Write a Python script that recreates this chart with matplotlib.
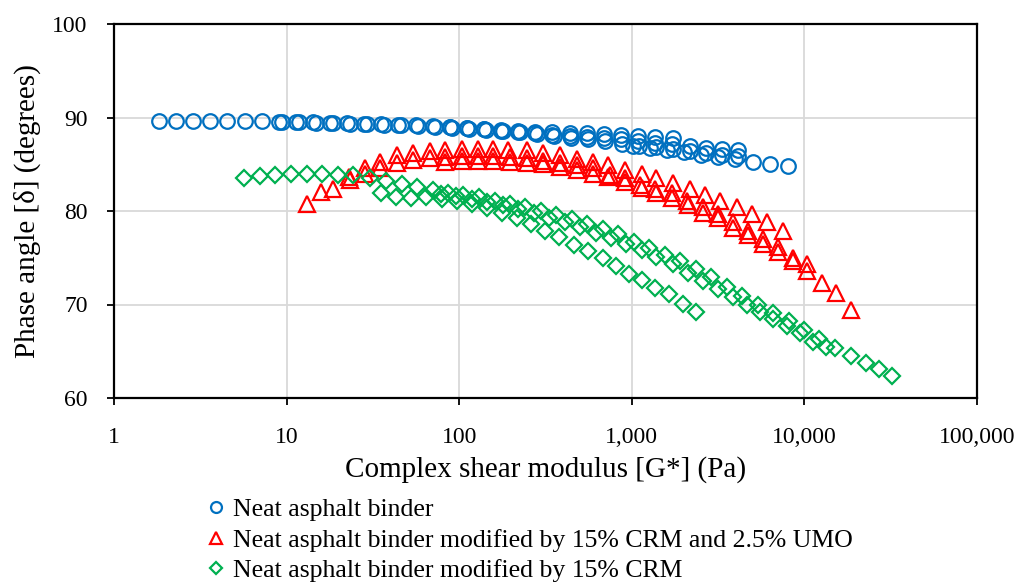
import matplotlib
matplotlib.use("Agg")
import matplotlib.pyplot as plt
from matplotlib.ticker import FuncFormatter, FixedLocator

# Neat asphalt binder (several overlapping sweeps)
neat_g1 = [1.82, 2.29, 2.87, 3.60, 4.51, 5.73, 7.19, 9.03, 11.3, 14.2, 17.8, 22.3, 28.0, 35.2, 44.1, 56.1,
           70.3, 88.2, 111, 139, 174, 218, 274, 344, 437, 548, 688, 862, 1080, 1360, 1730]
neat_d1 = [89.6, 89.6, 89.6, 89.6, 89.6, 89.6, 89.6, 89.5, 89.5, 89.5, 89.4, 89.4, 89.3, 89.3, 89.2, 89.2,
           89.1, 89.0, 88.9, 88.8, 88.7, 88.6, 88.5, 88.4, 88.3, 88.3, 88.2, 88.1, 88.0, 87.9, 87.8]
neat_g2 = [9.39, 11.8, 14.8, 18.5, 23.3, 29.2, 36.6, 45.9, 57.6, 72.2, 90.6, 114, 143, 179, 224, 281,
           353, 443, 555, 697, 874, 1100, 1380, 1730, 2160, 2680, 3320, 4100]
neat_d2 = [89.5, 89.5, 89.4, 89.4, 89.3, 89.3, 89.2, 89.2, 89.1, 89.0, 88.9, 88.8, 88.7, 88.6, 88.4, 88.2,
           88.0, 87.8, 87.7, 87.5, 87.2, 87.0, 86.8, 86.6, 86.4, 86.2, 86.0, 85.9]
neat_g3 = [88.2, 111, 139, 174, 218, 274, 344, 437, 548, 688, 862, 1080, 1360, 1700, 2160, 2680, 3320, 4100]
neat_d3 = [89.0, 88.9, 88.8, 88.6, 88.5, 88.3, 88.1, 88.0, 87.9, 87.8, 87.7, 87.5, 87.3, 87.2, 86.9, 86.7,
           86.6, 86.5]
neat_g4 = [1010, 1270, 1590, 2000, 2510, 3140, 3940, 5010, 6290, 7990]
neat_d4 = [86.9, 86.7, 86.5, 86.3, 86.0, 85.8, 85.6, 85.2, 85.0, 84.8]

# Modified by 15% CRM and 2.5% UMO
umo_g1 = [13.1, 15.8, 18.5, 22.9, 28.4, 34.7, 43.5, 53.9, 67.5, 82.5, 104, 128, 157, 191, 246, 305, 382,
          480, 594, 725, 910, 1140, 1390, 1730, 2160, 2640, 3230, 4050, 4950, 6040, 7480]
umo_d1 = [80.8, 82.0, 82.4, 83.6, 84.6, 85.2, 86.0, 86.2, 86.4, 86.5, 86.6, 86.6, 86.6, 86.5, 86.5, 86.2,
          86.0, 85.6, 85.2, 84.9, 84.4, 84.0, 83.5, 83.0, 82.4, 81.7, 81.1, 80.4, 79.7, 78.8, 77.9]
umo_g2 = [23.3, 28.4, 34.7, 43.5, 53.9, 67.5, 82.5, 104, 128, 157, 196, 246, 305, 382, 480, 594, 745,
          910, 1110, 1360, 1700, 2080, 2570, 3140, 3840, 4690, 5730, 7000, 8550, 10400]
umo_d2 = [83.3, 84.0, 84.6, 85.1, 85.5, 85.7, 85.8, 85.9, 85.9, 85.9, 85.8, 85.7, 85.4, 85.1, 84.9, 84.6,
          83.9, 83.5, 82.8, 82.4, 81.9, 81.1, 80.4, 79.7, 78.8, 77.9, 77.0, 76.1, 75.0, 74.3]
umo_g3 = [82.5, 104, 128, 157, 196, 246, 305, 382, 480, 594, 725, 910, 1140, 1390, 1700, 2110, 2570,
          3140, 3840, 4690, 5730, 7000, 8550, 10300, 12600, 15200, 18500]
umo_d3 = [85.2, 85.3, 85.3, 85.3, 85.2, 85.1, 85.0, 84.7, 84.4, 84.0, 83.6, 83.1, 82.5, 81.9, 81.4, 80.6,
          79.8, 79.2, 78.2, 77.4, 76.5, 75.6, 74.7, 73.6, 72.3, 71.2, 69.4]

# Modified by 15% CRM
crm_g1 = [5.66, 7.00, 8.56, 10.6, 13.1, 16.0, 19.8, 24.2, 30.4, 37.6, 46.5, 56.8, 70.3, 85.9, 105, 130,
          161, 196, 240, 297, 362, 449, 548, 678, 829, 1030, 1250, 1550, 1890, 2340, 2860, 3540, 4330,
          5360, 6540, 8100, 9890, 12200, 15000, 18500, 22600, 26900, 32000]
crm_d1 = [83.5, 83.7, 83.9, 84.0, 84.0, 84.0, 83.8, 83.8, 83.5, 83.2, 82.9, 82.6, 82.2, 81.9, 81.7, 81.5,
          81.1, 80.8, 80.4, 80.0, 79.6, 79.1, 78.6, 78.1, 77.5, 76.7, 76.0, 75.3, 74.6, 73.8, 72.9, 71.9,
          70.9, 70.0, 69.1, 68.2, 67.3, 66.3, 65.4, 64.5, 63.7, 63.1, 62.3]
crm_g2 = [35.2, 43.0, 52.6, 64.2, 79.0, 96.5, 118, 144, 176, 215, 260, 315, 381, 462, 559, 677, 810,
          962, 1150, 1370, 1640, 1970, 2340]
crm_d2 = [81.9, 81.5, 81.4, 81.5, 81.3, 81.1, 80.8, 80.3, 79.8, 79.2, 78.6, 77.9, 77.2, 76.4, 75.7, 75.0,
          74.1, 73.3, 72.6, 71.8, 71.1, 70.1, 69.2]
crm_g3 = [78.2, 95.6, 118, 144, 179, 218, 270, 330, 409, 499, 618, 755, 922, 1140, 1390, 1730, 2110,
          2570, 3140, 3840, 4630, 5500, 6540, 7890, 9380, 11200, 13300]
crm_d3 = [81.8, 81.6, 81.3, 81.0, 80.6, 80.2, 79.8, 79.3, 78.8, 78.3, 77.7, 77.1, 76.5, 75.8, 75.1, 74.3,
          73.4, 72.5, 71.7, 70.8, 70.0, 69.2, 68.5, 67.7, 66.9, 66.0, 65.5]

neat_g = neat_g1 + neat_g2 + neat_g3 + neat_g4
neat_d = neat_d1 + neat_d2 + neat_d3 + neat_d4
umo_g = umo_g1 + umo_g2 + umo_g3
umo_d = umo_d1 + umo_d2 + umo_d3
crm_g = crm_g1 + crm_g2 + crm_g3
crm_d = crm_d1 + crm_d2 + crm_d3

labels = ["Neat asphalt binder",
          "Neat asphalt binder modified by 15% CRM and 2.5% UMO",
          "Neat asphalt binder modified by 15% CRM"]

plt.rcParams['font.family'] = ['Liberation Serif', 'DejaVu Serif']

fig = plt.figure(figsize=(10.17, 5.86), dpi=100)
ax = fig.add_axes([114/1017, 1 - 398/586, (977-114)/1017, (398-24)/586])

h1, = ax.plot(neat_g, neat_d, linestyle='none', marker='o', markersize=10.5, markerfacecolor='none',
              markeredgecolor='#0070C0', markeredgewidth=1.6)
h2, = ax.plot(umo_g, umo_d, linestyle='none', marker='^', markersize=11.5, markerfacecolor='none',
              markeredgecolor='#FF0000', markeredgewidth=1.6)
h3, = ax.plot(crm_g, crm_d, linestyle='none', marker='D', markersize=8, markerfacecolor='none',
              markeredgecolor='#00B050', markeredgewidth=1.6)

ax.set_xscale('log')
ax.set_xlim(1, 100000)
ax.set_ylim(60, 100)
ax.xaxis.set_major_locator(FixedLocator([1, 10, 100, 1000, 10000, 100000]))
ax.xaxis.set_minor_locator(FixedLocator([]))
ax.xaxis.set_major_formatter(FuncFormatter(lambda v, p: f"{int(round(v)):,}"))
ax.set_yticks([60, 70, 80, 90, 100])
ax.grid(True, color='#d9d9d9', linewidth=1.3)
ax.set_axisbelow(True)
for s in ax.spines.values():
    s.set_linewidth(1.6)
    s.set_color('black')
ax.tick_params(axis='both', direction='out', length=5, width=1.3, labelsize=17)
ax.tick_params(axis='x', pad=16)
ax.tick_params(axis='y', pad=14)

ax.set_xlabel("Complex shear modulus [G*] (Pa)", fontsize=21, labelpad=6)
ax.set_ylabel("Phase angle [δ] (degrees)", fontsize=21, labelpad=8)

fig.legend([h1, h2, h3], labels, loc='upper left', bbox_to_anchor=(207/1017, 1 - 498/586),
           frameon=False, fontsize=18.5, handlelength=0.7, handletextpad=0.3, labelspacing=0.3,
           borderaxespad=0, borderpad=0, markerscale=0.75)

fig.savefig("out.png", dpi=100)
